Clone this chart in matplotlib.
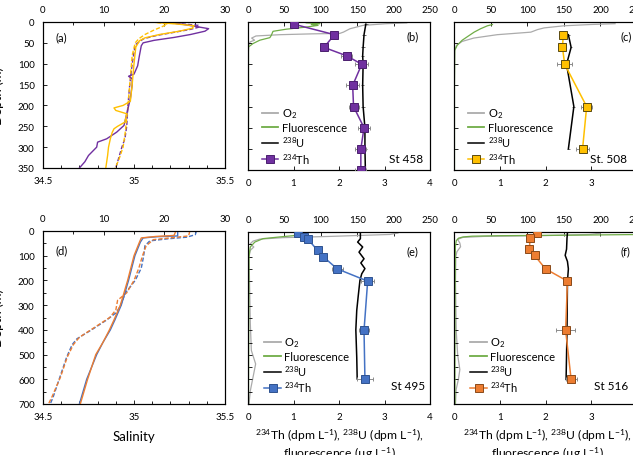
import matplotlib
matplotlib.use('Agg')
import matplotlib.pyplot as plt
from matplotlib.ticker import MultipleLocator

plt.rcParams['font.family'] = ['Lato', 'DejaVu Sans']
plt.rcParams['mathtext.fontset'] = 'custom'
plt.rcParams['mathtext.rm'] = 'Lato'
plt.rcParams['mathtext.it'] = 'Lato:italic'
plt.rcParams['mathtext.default'] = 'regular'

# ---------------- DATA ----------------
# Panel (a): St 458 (purple) and St 508 (gold); solid = salinity, dashed = temperature
sal458_depth = [1, 5, 10, 16, 22, 30, 37, 44, 50, 57, 80, 105, 125, 130, 136, 150, 184, 220, 248, 264, 280, 288, 300, 320, 335, 350]
sal458 = [35.20, 35.26, 35.33, 35.41, 35.39, 35.31, 35.22, 35.11, 35.05, 35.04, 35.03, 35.02, 35.00, 34.97, 34.99, 34.99, 34.98, 34.96, 34.945, 34.905, 34.85, 34.80, 34.795, 34.75, 34.73, 34.70]
temp458_depth = [2, 4, 8, 12, 18, 25, 32, 40, 48, 55, 100, 150, 200, 250, 280, 300, 320, 350]
temp458 = [19.8, 22.5, 25.6, 25.8, 24.2, 21.5, 18.8, 16.6, 15.8, 15.2, 14.7, 14.3, 14.0, 13.8, 13.5, 13.0, 12.6, 12.0]
sal508_depth = [1, 5, 9, 15, 22, 30, 38, 45, 60, 100, 150, 190, 200, 206, 212, 220, 240, 250, 256, 265, 280, 300, 320, 350]
sal508 = [35.12, 35.24, 35.33, 35.32, 35.25, 35.14, 35.06, 35.03, 35.01, 35.00, 34.99, 34.98, 34.94, 34.89, 34.90, 34.96, 34.95, 34.91, 34.89, 34.88, 34.87, 34.86, 34.855, 34.845]
temp508_depth = [1, 5, 10, 20, 30, 40, 50, 80, 150, 200, 260, 300, 330, 350]
temp508 = [18.8, 20.5, 19.8, 18.2, 16.8, 15.8, 15.2, 14.7, 14.3, 14.0, 13.6, 13.2, 12.5, 11.9]

# Panel (d): St 495 (blue) and St 516 (orange)
sal495_depth = [0, 20, 23, 28, 45, 100, 200, 300, 360, 400, 450, 500, 600, 700]
sal495 = [35.24, 35.24, 35.13, 35.05, 35.035, 35.005, 34.97, 34.93, 34.895, 34.87, 34.83, 34.795, 34.74, 34.70]
sal516_depth = [0, 18, 22, 28, 45, 100, 200, 300, 360, 400, 450, 500, 600, 700]
sal516 = [35.23, 35.22, 35.12, 35.04, 35.03, 35.00, 34.965, 34.925, 34.89, 34.865, 34.83, 34.79, 34.745, 34.705]
temp495_depth = [0, 15, 25, 32, 40, 60, 100, 150, 200, 250, 300, 330, 360, 400, 436, 460, 510, 590, 670, 700]
temp495 = [25.3, 25.1, 23.7, 20.4, 17.6, 16.8, 16.6, 16.2, 15.2, 13.6, 12.8, 12.1, 10.5, 8.0, 5.6, 4.8, 3.9, 2.8, 1.7, 1.2]
temp516_depth = [0, 20, 28, 35, 60, 100, 150, 200, 250, 280, 320, 350, 390, 430, 460, 510, 590, 670, 700]
temp516 = [24.2, 24.0, 20.9, 18.2, 17.0, 16.4, 15.8, 15.0, 13.8, 12.3, 12.0, 11.0, 8.5, 6.0, 5.0, 4.0, 2.9, 1.5, 0.9]

# Panel (b): St 458
th458_depth = [5, 30, 60, 80, 100, 150, 200, 250, 300, 350]
th458 = [1.00, 1.90, 1.67, 2.17, 2.50, 2.30, 2.32, 2.55, 2.48, 2.48]
th458_err = [0.05, 0.08, 0.08, 0.12, 0.14, 0.15, 0.11, 0.14, 0.12, 0.12]
u458 = [2.59, 2.55, 2.53, 2.52, 2.53, 2.52, 2.53, 2.57, 2.57, 2.58]
u458_err = [0.04, 0.04, 0.04, 0.04, 0.04, 0.04, 0.04, 0.04, 0.04, 0.04]
o2_458_depth = [2, 4, 8, 16, 24, 27, 28, 30, 33, 38, 43, 47, 55, 71, 150, 250, 350]
o2_458 = [218, 190, 158, 140, 131, 126, 89, 44, 11, 5, 9, 3, 1, 0.5, 0.5, 0.5, 0.5]
fl458_depth = [2, 4, 6, 8, 12, 17, 22, 32, 37, 43, 51, 59, 100, 200, 350]
fl458 = [1.28, 1.58, 1.39, 1.54, 1.28, 0.84, 0.55, 0.51, 0.48, 0.26, 0.11, 0.01, 0.01, 0.01, 0.01]

# Panel (c): St 508
th508_depth = [30, 60, 100, 200, 300]
th508 = [2.39, 2.37, 2.42, 2.90, 2.81]
th508_err = [0.08, 0.08, 0.17, 0.12, 0.14]
u508 = [2.50, 2.56, 2.46, 2.62, 2.50]
u508_err = [0.03, 0.03, 0.03, 0.03, 0.03]
o2_508_depth = [4, 6, 9, 14, 18, 24, 30, 38, 46, 55, 67, 150, 250, 350]
o2_508 = [220, 186, 150, 123, 114, 105, 59, 27, 11, 3.6, 1, 0.5, 0.5, 0.5]
fl508_depth = [6, 9, 16, 24, 32, 43, 55, 67, 150, 350]
fl508 = [0.84, 0.73, 0.58, 0.44, 0.33, 0.18, 0.07, 0.015, 0.01, 0.01]

# Panel (e): St 495
th495_depth = [5, 20, 30, 75, 100, 150, 200, 400, 600]
th495 = [1.09, 1.23, 1.32, 1.53, 1.65, 1.96, 2.63, 2.55, 2.57]
th495_err = [0.05, 0.06, 0.06, 0.07, 0.08, 0.12, 0.15, 0.12, 0.18]
u495_depth = [4, 27, 41, 61, 82, 109, 126, 149, 170, 197, 265, 319, 398, 510, 598]
u495 = [2.47, 2.47, 2.41, 2.52, 2.44, 2.55, 2.48, 2.57, 2.50, 2.46, 2.42, 2.39, 2.37, 2.39, 2.40]
o2_495_depth = [4, 10, 18, 23, 29, 37, 48, 61, 75, 102, 238, 374, 482, 537, 591, 646, 700]
o2_495 = [206, 195, 112, 48, 16, 7, 3, 8, 3, 1.4, 2.3, 3.2, 4.6, 10.5, 6.9, 3.2, 1.4]
fl495_depth = [12, 15, 20, 27, 41, 61, 102, 374, 700]
fl495 = [1.05, 0.99, 0.70, 0.33, 0.15, 0.05, 0.02, 0.015, 0.01]

# Panel (f): St 516
th516_depth = [3, 25, 70, 95, 150, 200, 400, 600]
th516 = [1.82, 1.66, 1.65, 1.76, 2.00, 2.48, 2.44, 2.56]
th516_err = [0.06, 0.05, 0.05, 0.06, 0.08, 0.08, 0.20, 0.12]
u516_depth = [3, 25, 70, 95, 120, 150, 200, 400, 600]
u516 = [2.48, 2.47, 2.46, 2.43, 2.48, 2.50, 2.48, 2.47, 2.45]
o2_516_depth = [0, 5, 10, 15, 18, 22, 30, 45, 60, 80, 100, 200, 400, 500, 560, 600, 640, 700]
o2_516 = [190, 200, 185, 120, 40, 12, 5, 8, 9, 4, 2.5, 2, 3, 5, 8, 6, 3, 2]
fl516_depth = [5, 10, 13, 15, 17, 20, 25, 35, 60, 300, 700]
fl516 = [4.6, 4.2, 2.5, 1.0, 0.4, 0.2, 0.1, 0.05, 0.03, 0.02, 0.02]

sal_ticks = [34.5, 35, 35.5]
sal_ticklabels = ['34.5', '35', '35.5']

# ---------------- FIGURE ----------------
W, H = 633, 456
fig = plt.figure(figsize=(W / 100, H / 100), dpi=100)
fig.patch.set_facecolor('white')

def box(l, r, t, b):
    return [l / W, 1 - b / H, (r - l) / W, (b - t) / H]

TICK_FS = 7
GREY = '#ABABAB'
GREEN = '#70AD47'

def style(ax, axt):
    for a in (ax, axt):
        for s in a.spines.values():
            s.set_linewidth(0.8)
            s.set_color('black')
    ax.tick_params(axis='both', which='both', direction='in', labelsize=TICK_FS, pad=6,
                   top=False, right=False, width=0.6)
    ax.tick_params(which='major', length=3)
    ax.tick_params(which='minor', length=2)
    axt.tick_params(axis='x', which='both', direction='in', labelsize=TICK_FS, pad=6, width=0.6)
    axt.tick_params(which='major', length=3)
    axt.tick_params(which='minor', length=2)

def salinity_panel(rect, ymax, ymaj, ymin, letter, curves):
    ax = fig.add_axes(rect)
    axt = ax.twiny()
    ax.set_zorder(axt.get_zorder() + 1)
    ax.patch.set_visible(False)
    for sd, sv, td, tv, col in curves:
        ax.plot(sv, sd, color=col, lw=1.0)
        axt.plot(tv, td, color=col, lw=1.0, dashes=(3, 1.5))
    ax.set_xlim(34.5, 35.5)
    ax.set_ylim(ymax, 0)
    axt.set_xlim(0, 30)
    ax.set_xticks(sal_ticks)
    ax.set_xticklabels(sal_ticklabels)
    ax.xaxis.set_minor_locator(MultipleLocator(0.1))
    axt.xaxis.set_major_locator(MultipleLocator(10))
    axt.xaxis.set_minor_locator(MultipleLocator(5))
    ax.yaxis.set_major_locator(MultipleLocator(ymaj))
    if ymin:
        ax.yaxis.set_minor_locator(MultipleLocator(ymin))
    style(ax, axt)
    ax.text(0.10, 0.90 if ymax < 500 else 0.89, letter, transform=ax.transAxes,
            ha='center', va='center', fontsize=8)
    return ax

def profile_panel(rect, ymax, letter, letter_x, station, st_x, st_y, leg_x,
                  th_col, th_edge, th_d, th_v, th_e, u_d, u_v, u_e,
                  o2_d, o2_v, fl_d, fl_v):
    ax = fig.add_axes(rect)
    axt = ax.twiny()
    ax.set_zorder(axt.get_zorder() + 1)
    ax.patch.set_visible(False)
    lo2, = axt.plot(o2_v, o2_d, color=GREY, lw=0.9)
    lfl, = ax.plot(fl_v, fl_d, color=GREEN, lw=0.9)
    if u_e is not None:
        ax.errorbar(u_v, u_d, xerr=u_e, fmt='none', ecolor='#555555', elinewidth=0.6,
                    capsize=0, zorder=2)
    lu, = ax.plot(u_v, u_d, color='black', lw=1.1, zorder=3)
    eb = ax.errorbar(th_v, th_d, xerr=th_e, fmt='-s', color=th_col, mfc=th_col, mec=th_edge,
                     mew=0.7, ms=5.5, lw=1.1, ecolor='#8C8C8C', elinewidth=0.7,
                     capsize=1.5, capthick=0.7, zorder=4)
    ax.set_xlim(0, 4)
    ax.set_ylim(ymax, 0)
    axt.set_xlim(0, 250)
    ax.xaxis.set_major_locator(MultipleLocator(1))
    axt.xaxis.set_major_locator(MultipleLocator(50))
    ax.yaxis.set_major_locator(MultipleLocator(50))
    style(ax, axt)
    ax.tick_params(axis='y', labelleft=False)
    ax.text(letter_x, 0.905 if ymax < 500 else 0.89, letter, transform=ax.transAxes,
            ha='center', va='center', fontsize=8)
    ax.text(st_x, st_y, station, transform=ax.transAxes, ha='right', va='center', fontsize=8.5)
    leg = ax.legend([lo2, lfl, lu, eb[0]],
                    ['O$_2$', 'Fluorescence', '$^{238}$U', '$^{234}$Th'],
                    loc='lower left', bbox_to_anchor=(leg_x, 0.0 if ymax < 500 else 0.03),
                    frameon=False, fontsize=8, handlelength=1.5, handletextpad=0.3,
                    labelspacing=0.15, borderaxespad=0.2, borderpad=0.2)
    for h in leg.get_lines()[:2]:
        h.set_linewidth(1.3)
    return ax

PURPLE, GOLD, BLUE, ORANGE = '#7030A0', '#FFC000', '#4472C4', '#ED7D31'

salinity_panel(box(43, 225, 23, 169), 350, 50, None, '(a)',
               [(sal458_depth, sal458, temp458_depth, temp458, PURPLE),
                (sal508_depth, sal508, temp508_depth, temp508, GOLD)])
salinity_panel(box(43, 225, 232, 405), 700, 100, 50, '(d)',
               [(sal495_depth, sal495, temp495_depth, temp495, BLUE),
                (sal516_depth, sal516, temp516_depth, temp516, ORANGE)])

profile_panel(box(248, 430, 23, 171), 350, '(b)', 0.906, 'St 458', 0.962, 0.075, 0.05,
              PURPLE, '#4B1F6F', th458_depth, th458, th458_err, th458_depth, u458, u458_err,
              o2_458_depth, o2_458, fl458_depth, fl458)
profile_panel(box(454, 637, 23, 171), 350, '(c)', 0.94, 'St. 508', 0.945, 0.075, 0.05,
              GOLD, '#5A4A10', th508_depth, th508, th508_err, th508_depth, u508, u508_err,
              o2_508_depth, o2_508, fl508_depth, fl508)
profile_panel(box(248, 430, 233, 405), 700, '(e)', 0.906, 'St 495', 0.972, 0.105, 0.065,
              BLUE, '#2F528F', th495_depth, th495, th495_err, u495_depth, u495, None,
              o2_495_depth, o2_495, fl495_depth, fl495)
profile_panel(box(454, 637, 233, 405), 700, '(f)', 0.935, 'St 516', 0.95, 0.105, 0.065,
              ORANGE, '#8A4A1A', th516_depth, th516, th516_err, u516_depth, u516, None,
              o2_516_depth, o2_516, fl516_depth, fl516)

# axis titles
fig.text(-2 / W, 1 - 96 / H, 'Depth (m)', rotation=90, ha='center', va='center', fontsize=9.5)
fig.text(-2 / W, 1 - 318 / H, 'Depth (m)', rotation=90, ha='center', va='center', fontsize=9.5)
fig.text(134 / W, 1 - 437 / H, 'Salinity', ha='center', va='center', fontsize=9.5)
xl1 = '$^{234}$Th (dpm L$^{-1}$), $^{238}$U (dpm L$^{-1}$),'
xl2 = 'fluorescence (µg L$^{-1}$)'
for cx in (339, 547):
    fig.text(cx / W, 1 - 436 / H, xl1, ha='center', va='center', fontsize=8.7)
    fig.text(cx / W, 1 - 454 / H, xl2, ha='center', va='center', fontsize=8.7)

fig.savefig('out.png', dpi=100)
